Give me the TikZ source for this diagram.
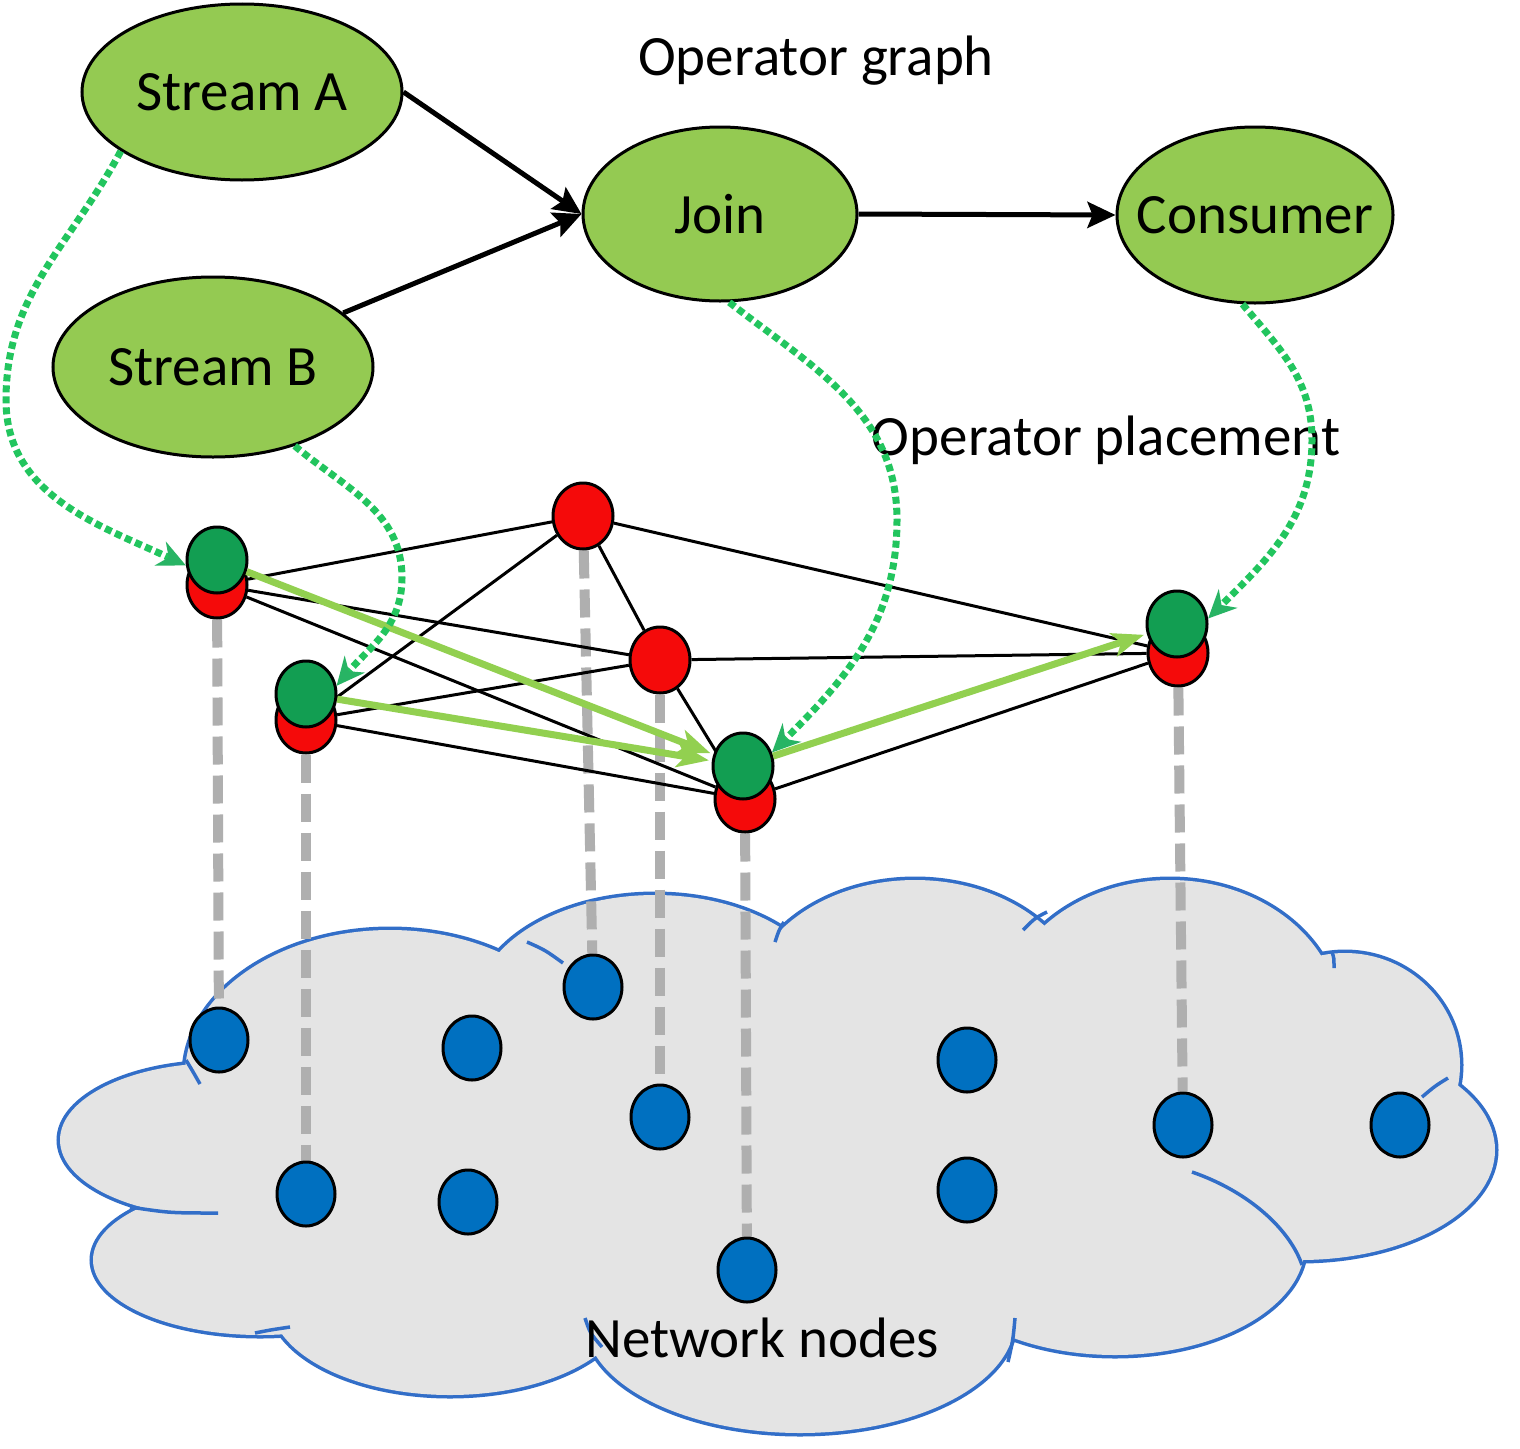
\documentclass[tikz,border=0pt]{standalone}
\usepackage{fontspec}
\setmainfont{Carlito}
\usetikzlibrary{shapes.geometric,arrows.meta}
\pgfdeclarelayer{background}
\pgfsetlayers{background,main}
\definecolor{opgreen}{RGB}{148,202,82}
\definecolor{nodegreen}{RGB}{18,158,82}
\definecolor{nodered}{RGB}{245,10,10}
\definecolor{netblue}{RGB}{0,112,192}
\definecolor{dotgreen}{RGB}{34,197,94}
\definecolor{tipgreen}{RGB}{40,180,100}
\definecolor{flowgreen}{RGB}{146,208,80}
\definecolor{dashgray}{RGB}{175,175,175}
\definecolor{cloudfill}{RGB}{228,228,228}
\definecolor{cloudline}{RGB}{50,110,200}
\newcommand{\cloudlobes}{%
 (390,-1075) ellipse [x radius=205, y radius=145]
 (655,-1010) ellipse [x radius=180, y radius=115]
 (915,-1010) ellipse [x radius=170, y radius=130]
 (1170,-1020) ellipse [x radius=170, y radius=140]
 (1345,-1065) ellipse [x radius=115, y radius=112]
 (1300,-1150) ellipse [x radius=195, y radius=110]
 (1115,-1245) ellipse [x radius=190, y radius=110]
 (800,-1320) ellipse [x radius=215, y radius=113]
 (450,-1300) ellipse [x radius=180, y radius=95]
 (260,-1260) ellipse [x radius=167, y radius=75]
 (220,-1140) ellipse [x radius=160, y radius=77]
 (760,-1150) ellipse [x radius=520, y radius=190]}
\begin{document}
\begin{tikzpicture}[x=1pt,y=1pt,
  txt/.style={font=\fontsize{57}{60}\selectfont},
  opnode/.style={ellipse, draw=black, line width=3pt, fill=opgreen, inner xsep=-40pt, inner ysep=0pt, txt},
  gnode/.style={ellipse, draw=black, line width=3pt, inner sep=0pt, minimum width=60, minimum height=66},
  rednode/.style={gnode, fill=nodered},
  grnnode/.style={gnode, fill=nodegreen},
  bluenode/.style={ellipse, draw=black, line width=3pt, fill=netblue, inner sep=0pt, minimum width=58, minimum height=64},
  flow/.style={line width=5pt, -{Stealth[length=28pt,width=26pt,inset=5pt]}},
  place/.style={dotgreen, line width=7pt, dash pattern=on 7pt off 4pt,
    -{Stealth[length=28pt,width=26pt,inset=9pt,color=tipgreen,fill=tipgreen]}},
  greenflow/.style={flowgreen, line width=7pt, shorten >=3pt,
    -{Stealth[length=32pt,width=24pt,inset=8pt]}},
  edge/.style={black, line width=3pt},
  drop/.style={dashgray, line width=10pt, dash pattern=on 28pt off 11pt},
  cloudedge/.style={cloudline, line width=3.5pt}]
\useasboundingbox (0,0) rectangle (1520,-1448);

% operator graph
\node[opnode, minimum width=320, minimum height=176] (sa) at (242,-92) {Stream A};
\node[opnode, minimum width=320, minimum height=180] (sb) at (213,-367) {Stream B};
\node[opnode, minimum width=274, minimum height=174] (join) at (720,-214) {Join};
\node[opnode, minimum width=276, minimum height=176] (cons) at (1255,-215) {Consumer};
\node[txt, anchor=base] (tgraph) at (816,-75) {Operator graph};
\node[txt, anchor=base] (tplace) at (1106,-455) {Operator placement};
\node[txt, anchor=base] (tnet) at (762,-1357) {Network nodes};

\draw[flow] (sa.east) -- (join.west);
\draw[flow] (sb) -- (join.west);
\draw[flow] (join.east) -- (cons.west);

% network nodes
\node[bluenode] (b1) at (219,-1040) {};
\node[bluenode] (b2) at (472,-1048) {};
\node[bluenode] (b3) at (593,-987) {};
\node[bluenode] (b4) at (660,-1117) {};
\node[bluenode] (b5) at (306,-1194) {};
\node[bluenode] (b6) at (468,-1202) {};
\node[bluenode] (b7) at (747,-1270) {};
\node[bluenode] (b8) at (967,-1060) {};
\node[bluenode] (b9) at (967,-1190) {};
\node[bluenode] (b10) at (1183,-1125) {};
\node[bluenode] (b11) at (1400,-1125) {};

% physical graph nodes
\node[rednode] (r1) at (583,-516) {};
\node[rednode] (r2) at (660,-660) {};
\node[rednode] (p1r) at (217,-585) {};
\node[grnnode] (p1g) at (217,-560) {};
\node[rednode] (p2r) at (306,-720) {};
\node[grnnode] (p2g) at (306,-694) {};
\node[rednode] (p3r) at (745,-799) {};
\node[grnnode] (p3g) at (743,-766) {};
\node[rednode] (p4r) at (1178,-653) {};
\node[grnnode] (p4g) at (1177,-624) {};

\coordinate (wpA) at (6,-400);
\coordinate (wpB) at (402,-578);
\coordinate (wpC) at (897,-520);
\coordinate (wpD) at (1312,-440);

\begin{pgfonlayer}{background}
  \fill[white] (0,0) rectangle (1520,-1448);
  \draw[cloudline, line width=7pt] \cloudlobes;
  \fill[cloudfill] \cloudlobes;
  \draw[cloudedge] (186,-1060) .. controls (192,-1070) .. (200,-1084);
  \draw[cloudedge] (130,-1207) .. controls (170,-1213) .. (218,-1213);
  \draw[cloudedge] (527,-942) .. controls (545,-950) .. (563,-963);
  \draw[cloudedge] (784,-922) .. controls (779,-930) .. (775,-942);
  \draw[cloudedge] (1047,-912) .. controls (1035,-918) .. (1023,-930);
  \draw[cloudedge] (1332,-952) .. controls (1334,-958) .. (1334,-968);
  \draw[cloudedge] (1448,-1078) .. controls (1435,-1086) .. (1422,-1097);
  \draw[cloudedge] (1192,-1172) .. controls (1250,-1192) and (1290,-1230) .. (1302,-1265);
  \draw[cloudedge] (585,-1318) .. controls (590,-1333) .. (602,-1347);
  \draw[cloudedge] (1015,-1318) .. controls (1013,-1340) .. (1008,-1362);
  \draw[cloudedge] (255,-1333) .. controls (270,-1330) .. (290,-1327);
  % vertical mapping
  \draw[drop] (p1r) -- (b1);
  \draw[drop] (p2r) -- (b5);
  \draw[drop] (r1) -- (b3);
  \draw[drop] (r2) -- (b4);
  \draw[drop] (p3r) -- (b7);
  \draw[drop] (p4r) -- (b10);
  % topology edges
  \draw[edge] (p1r) -- (r1);
  \draw[edge] (r1) -- (p4r);
  \draw[edge] (r1) -- (r2);
  \draw[edge] (r1) -- (p2r);
  \draw[edge] (p1r) -- (r2);
  \draw[edge] (p1r) -- (p3r);
  \draw[edge] (p2r) -- (r2);
  \draw[edge] (p2r) -- (p3r);
  \draw[edge] (r2) -- (p4r);
  \draw[edge] (r2) -- (p3r);
  \draw[edge] (p3r) -- (p4r);
\end{pgfonlayer}

% data flow between placed operators
\draw[greenflow] (p1g) -- (p3g);
\draw[greenflow] (p2g) -- (p3g);
\draw[greenflow] (p3g) -- (p4g);

% placement arrows
\draw[place] (sa.206) to[out=242,in=90] (wpA) to[out=-90,in=155] (p1g.190);
\draw[place] (sb.-44) to[out=-40,in=90] (wpB) to[out=-90,in=50] (p2g.15);
\draw[place] (join.-84) to[out=-38,in=90] (wpC) to[out=-90,in=45] (p3g.25);
\draw[place] (cons.-98) to[out=-50,in=90] (wpD) to[out=-90,in=45] (p4g.10);
\end{tikzpicture}
\end{document}
